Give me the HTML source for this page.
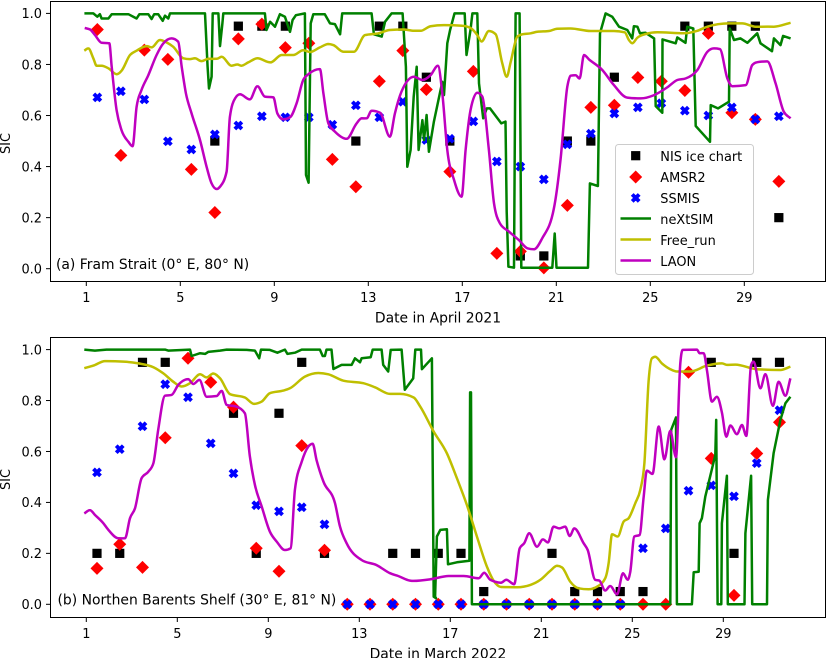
<!DOCTYPE html>
<html lang="en">
<head>
<meta charset="utf-8">
<title>SIC comparison chart</title>
<style>
html,body{margin:0;padding:0;background:#fff;}
svg{display:block;font-family:"DejaVu Sans","Liberation Sans",sans-serif;}
text{fill:#000;font-size:12.9px;}
</style>
</head>
<body>
<svg id="chart" xmlns="http://www.w3.org/2000/svg" width="827" height="658" viewBox="0 0 827 658">
<g id="panelA"></g>
<g id="panelB"></g>
<g id="legend">
<rect x="615.5" y="144.5" width="138" height="130" rx="3" ry="3" fill="#fff" fill-opacity="0.8" stroke="#ccc" stroke-width="1"/>
<rect x="631.1" y="151.1" width="9.2" height="9.2" fill="#000"/>
<text x="660.3" y="161">NIS ice chart</text>
<path d="M635.7 170.5L642.2 177L635.7 183.5L629.2 177Z" fill="#f00"/>
<text x="660.3" y="182">AMSR2</text>
<path d="M633.6 193.7L635.7 195.8L637.8 193.7L640 195.8L637.8 197.9L640 200L637.8 202.2L635.7 200L633.6 202.2L631.4 200L633.6 197.9L631.4 195.8Z" fill="#00f" stroke="#00f" stroke-width="0.8"/>
<text x="660.3" y="203">SSMIS</text>
<line x1="620.5" x2="651" y1="218.5" y2="218.5" stroke="#008000" stroke-width="2.5"/>
<text x="660.3" y="224">neXtSIM</text>
<line x1="620.5" x2="651" y1="239.5" y2="239.5" stroke="#bfbf00" stroke-width="2.5"/>
<text x="660.3" y="245">Free_run</text>
<line x1="620.5" x2="651" y1="260.5" y2="260.5" stroke="#bf00bf" stroke-width="2.5"/>
<text x="660.3" y="266">LAON</text>
</g>
</svg>
<script>
const xTickLabels = [1, 5, 9, 13, 17, 21, 25, 29];
const yTickLabels = ["0.0", "0.2", "0.4", "0.6", "0.8", "1.0"];
const yTickValues = [0, 0.2, 0.4, 0.6, 0.8, 1.0];

const aprilMarkerDays = [1.47,2.47,3.47,4.47,5.47,6.47,7.47,8.47,9.47,10.47,11.47,12.47,13.47,14.47,15.47,16.47,17.47,18.47,19.47,20.47,21.47,22.47,23.47,24.47,25.47,26.47,27.47,28.47,29.47,30.47];
const aprilNis = [null,null,null,null,null,0.5,0.95,0.95,0.95,null,null,0.5,0.95,0.95,0.75,0.5,null,null,0.05,0.05,0.5,0.5,0.75,null,null,0.95,0.95,0.95,0.95,0.2];
const aprilAmsr2 = [0.937,0.444,0.856,0.82,0.389,0.22,0.90,0.958,0.866,0.883,0.428,0.321,0.734,0.854,0.702,0.38,0.773,0.06,0.068,0.003,0.248,0.632,0.64,0.749,0.734,0.698,0.922,0.611,0.585,0.342];
const aprilSsmis = [0.671,0.695,0.663,0.499,0.467,0.526,0.561,0.597,0.593,0.593,0.564,0.64,0.593,0.654,0.504,0.509,0.577,0.42,0.40,0.35,0.487,0.529,0.608,0.632,0.648,0.619,0.60,0.632,0.585,0.597];

const aprilNextsimDays = [0.92,1.3,1.47,1.58,1.65,1.94,2.08,2.79,3.14,3.26,3.64,3.78,3.89,4.06,4.25,4.35,4.49,4.56,6.05,6.16,6.22,6.33,6.38,6.62,6.69,6.79,6.83,8.6,8.67,8.82,9.03,9.24,9.45,9.67,9.78,9.92,10.3,10.35,10.46,10.55,10.66,11.15,11.37,11.58,11.8,11.89,13.14,13.24,13.57,13.71,13.99,14.46,14.6,14.66,14.8,14.93,15.06,15.14,15.3,15.37,15.48,15.58,15.79,16.15,16.22,16.36,16.48,16.67,17.1,17.18,17.35,17.43,17.64,17.71,17.89,18.04,18.18,18.66,18.84,18.89,18.96,19.2,19.27,19.44,19.51,20.83,20.93,21.01,22.35,22.43,22.77,22.86,23.1,23.38,23.67,24.02,24.23,24.3,24.45,24.56,24.8,25.16,25.23,25.51,25.52,26.08,26.15,26.5,26.57,26.83,26.93,27.54,27.57,27.88,28.35,28.38,28.56,28.84,29.13,29.55,29.69,30.18,30.26,30.54,30.65,30.97];
const aprilNextsimValues = [1,1,0.987,0.997,0.98,0.98,0.997,0.997,0.98,0.997,0.997,0.978,0.997,0.997,0.971,0.991,0.98,1,1,0.791,0.706,0.752,1,1,0.872,0.961,1,1,0.935,0.967,0.948,0.997,0.987,0.928,0.974,0.993,1,0.367,0.337,0.961,0.997,0.997,0.961,0.958,0.918,1,1,0.918,0.909,0.967,1,1,0.791,0.399,0.465,0.674,0.791,0.465,0.582,0.504,0.602,0.458,0.576,0.732,0.68,0.883,0.935,1,1,0.837,0.935,1,1,0.726,0.589,0.628,0.628,0.569,0.576,0.223,0.008,0.004,1,1,0.004,0.004,0.138,0.004,0.004,0.334,0.324,0.922,1,0.987,0.948,0.935,0.902,0.95,0.948,0.922,0.924,0.902,0.637,0.611,0.898,0.883,0.906,0.885,0.948,0.941,0.559,0.497,0.641,0.628,0.654,0.941,0.896,0.902,0.885,0.922,0.883,0.852,0.902,0.876,0.912,0.902];

const aprilFreeDays = [0.915,1.085,1.3,1.44,1.65,1.94,2.29,2.5,2.86,3.14,3.57,3.78,4.13,4.42,4.7,5.13,5.41,5.62,5.9,6.19,6.55,6.76,7.18,7.43,7.6,7.89,8.28,8.84,9.31,9.81,10.23,10.52,10.94,11.3,11.51,11.94,12.39,12.86,13.43,13.92,14.49,14.94,15.23,15.65,16.22,17,17.35,17.64,17.82,18.13,18.42,18.7,18.89,19.06,19.34,19.55,19.91,20.19,20.69,21.04,21.61,22.46,23.45,23.91,24.09,24.23,24.45,24.8,25.3,26.43,27,27.43,28.35,28.91,29.48,30.26,30.97];
const aprilFreeValues = [0.854,0.863,0.824,0.795,0.795,0.785,0.762,0.775,0.837,0.854,0.872,0.867,0.896,0.886,0.869,0.824,0.821,0.824,0.813,0.822,0.822,0.83,0.795,0.80,0.795,0.808,0.824,0.808,0.837,0.837,0.856,0.849,0.867,0.88,0.876,0.85,0.85,0.915,0.922,0.935,0.937,0.932,0.932,0.95,0.954,0.952,0.943,0.915,0.89,0.931,0.918,0.804,0.752,0.81,0.909,0.918,0.922,0.928,0.931,0.94,0.941,0.931,0.931,0.926,0.896,0.883,0.905,0.919,0.926,0.922,0.932,0.948,0.961,0.961,0.948,0.948,0.963];

const aprilLaonDays = [0.93,1.16,1.37,1.65,1.98,2.08,2.29,2.5,2.79,2.97,3.14,3.35,3.64,3.99,4.28,4.63,4.91,5.06,5.24,5.48,5.84,6.12,6.33,6.55,6.69,6.97,7.11,7.33,7.54,7.96,8.28,8.6,8.96,9.13,9.38,9.67,9.95,10.23,10.45,10.94,11.09,11.3,11.58,12.08,12.5,12.72,12.93,13.14,13.5,13.92,14.13,14.41,14.94,15.3,15.65,15.96,16.15,16.36,16.65,16.97,17.14,17.35,17.64,17.85,18.13,18.35,18.6,18.99,19.41,19.77,20.05,20.4,20.9,21.18,21.47,21.61,21.82,21.99,22.18,22.39,22.96,23.45,24.02,24.59,25.16,25.72,26.15,26.5,27,27.43,27.71,27.96,28.28,28.49,29.06,29.34,29.55,29.98,30.33,30.68,30.97];
const aprilLaonValues = [0.943,0.937,0.915,0.885,0.883,0.791,0.621,0.543,0.497,0.48,0.634,0.70,0.758,0.837,0.883,0.902,0.889,0.791,0.687,0.608,0.504,0.399,0.334,0.312,0.321,0.38,0.595,0.667,0.683,0.663,0.715,0.674,0.671,0.608,0.585,0.593,0.648,0.739,0.762,0.782,0.687,0.569,0.537,0.509,0.569,0.589,0.589,0.619,0.611,0.517,0.608,0.693,0.752,0.739,0.758,0.795,0.687,0.465,0.347,0.282,0.465,0.621,0.689,0.674,0.465,0.256,0.178,0.145,0.112,0.08,0.076,0.119,0.236,0.426,0.713,0.756,0.758,0.745,0.837,0.82,0.778,0.719,0.67,0.667,0.68,0.71,0.739,0.745,0.778,0.85,0.863,0.86,0.745,0.715,0.719,0.798,0.809,0.812,0.726,0.615,0.589];

const marchMarkerDays = [1.47,2.47,3.47,4.47,5.47,6.47,7.47,8.47,9.47,10.47,11.47,12.47,13.47,14.47,15.47,16.47,17.47,18.47,19.47,20.47,21.47,22.47,23.47,24.47,25.47,26.47,27.47,28.47,29.47,30.47,31.47];
const marchNis = [0.2,0.2,0.95,0.95,null,null,0.75,0.2,0.75,0.95,0.2,null,null,0.2,0.2,0.2,0.2,0.05,null,null,0.2,0.05,0.05,0.05,0.05,null,null,0.95,0.2,0.95,0.95];
const marchAmsr2 = [0.141,0.236,0.145,0.654,0.966,0.872,0.774,0.22,0.13,0.623,0.212,0,0,0,0,0,0,0,0,0,0,0,0,0,0,0,0.911,0.573,0.035,0.592,0.715];
const marchSsmis = [0.518,0.609,0.699,0.864,0.813,0.632,0.514,0.389,0.365,0.381,0.314,0,0,0,0,0,0,0,0,0,0,0,0,0,0.22,0.298,0.446,0.467,0.424,0.554,0.762];

const marchNextsimDays = [0.91,1.38,1.89,4.46,4.6,5.56,5.63,6,6.22,6.36,6.88,7.17,8.05,8.41,8.6,8.68,9.07,9.4,9.73,9.84,10.17,10.47,11.27,11.39,11.49,11.56,11.78,11.86,12.22,12.66,12.81,13.03,13.1,13.5,13.59,13.98,14.05,14.27,14.38,14.86,15,15.37,15.46,15.71,15.75,16.19,16.27,16.37,16.33,16.41,16.56,16.85,16.9,17.29,17.84,17.87,17.91,17.95,26.67,26.71,26.92,26.96,27.62,27.7,27.92,27.96,28.06,28.21,28.65,28.69,28.75,28.91,28.94,29.16,29.2,29.93,29.97,30.22,30.27,30.92,30.96,31.21,31.51,31.73,31.95];
const marchNextsimValues = [1,0.996,1,1,0.996,1,0.975,0.986,0.983,0.991,0.996,1,0.999,0.996,0.966,1,0.999,0.988,1,0.983,0.988,1,1,0.975,0.975,1,1,0.924,0.94,0.94,0.966,0.95,0.966,0.97,1,1,0.94,0.914,0.999,1,0.842,0.887,1,1,0.923,0.966,0.03,0.024,0.03,0.266,0.292,0.295,0.157,0.165,0.171,0.832,0.832,0,0,0.685,0.734,0,0,0.126,0.128,0.318,0.338,0.423,0.586,0.724,0,0,0.318,0.505,0,0,0.279,0.505,0,0,0.41,0.593,0.724,0.789,0.815];

const marchFreeDays = [0.91,1.31,1.82,2.63,3.29,3.95,4.38,4.82,5.19,5.56,6,6.29,6.58,6.88,7.32,7.97,8.37,8.71,9.07,9.66,9.95,10.61,11.2,11.64,12.3,13.18,13.69,14.35,14.79,15.39,15.68,16.27,16.85,17.29,17.73,18.17,18.61,18.9,19.23,19.93,20.52,20.96,21.4,21.69,21.91,22.27,22.64,23.08,23.45,23.81,23.96,24.11,24.36,24.62,24.84,25.13,25.35,25.53,25.72,25.86,26.01,26.3,26.67,26.96,27.55,28.28,28.94,29.16,29.53,30.48,31.51,31.95];
const marchFreeValues = [0.927,0.937,0.955,0.953,0.946,0.931,0.907,0.874,0.855,0.868,0.903,0.891,0.906,0.887,0.825,0.812,0.787,0.796,0.829,0.839,0.848,0.894,0.908,0.903,0.878,0.868,0.852,0.826,0.826,0.812,0.776,0.678,0.593,0.495,0.39,0.266,0.148,0.093,0.068,0.067,0.076,0.096,0.132,0.151,0.145,0.089,0.063,0.059,0.069,0.102,0.161,0.275,0.266,0.325,0.338,0.397,0.449,0.554,0.881,0.966,0.972,0.946,0.923,0.914,0.914,0.937,0.946,0.94,0.941,0.923,0.92,0.933];

const marchLaonDays = [0.91,1.16,1.38,1.75,1.97,2.41,2.7,2.92,3.14,3.43,3.73,3.95,4.16,4.46,4.75,5.04,5.48,5.7,5.97,6.29,6.73,6.95,7.17,7.61,7.97,8.19,8.41,8.71,9.07,9.37,9.73,9.98,10.17,10.47,10.76,10.95,11.12,11.42,11.93,12.15,12.44,13.1,13.76,14.35,14.71,15.23,15.39,16.12,16.93,17.59,18.25,18.49,18.76,19.23,19.46,19.81,20.05,20.25,20.47,20.81,21.07,21.29,21.54,21.79,22.05,22.25,22.45,22.86,23.04,23.37,23.55,23.81,24.03,24.33,24.59,24.8,24.91,25.09,25.32,25.5,25.64,25.89,26.16,26.41,26.67,26.92,27.11,27.21,27.84,27.96,28.14,28.28,28.5,28.72,28.94,29.13,29.31,29.6,29.82,30.01,30.22,30.33,30.63,30.85,31.18,31.43,31.73,31.95];
const marchLaonValues = [0.357,0.37,0.351,0.318,0.292,0.259,0.259,0.338,0.377,0.495,0.521,0.554,0.685,0.819,0.822,0.861,0.884,0.865,0.881,0.815,0.818,0.838,0.783,0.776,0.75,0.58,0.469,0.384,0.285,0.246,0.213,0.22,0.449,0.56,0.619,0.63,0.567,0.482,0.397,0.305,0.24,0.174,0.154,0.122,0.111,0.093,0.092,0.098,0.111,0.111,0.102,0.124,0.096,0.085,0.096,0.079,0.22,0.24,0.279,0.226,0.255,0.243,0.305,0.298,0.305,0.268,0.298,0.24,0.213,0.096,0.093,0.054,0.072,0.039,0.122,0.096,0.128,0.266,0.272,0.423,0.525,0.512,0.698,0.569,0.681,0.577,0.946,0.999,1,0.986,0.986,0.92,0.796,0.815,0.753,0.658,0.702,0.668,0.704,0.661,0.94,0.953,0.848,0.904,0.779,0.874,0.819,0.887];

const NS = "http://www.w3.org/2000/svg";

function make(parent, tag, attrs) {
  const el = document.createElementNS(NS, tag);
  for (const k in attrs) el.setAttribute(k, attrs[k]);
  parent.appendChild(el);
  return el;
}

function squarePath(cx, cy, r) {
  return "M" + (cx - r) + " " + (cy - r) + "H" + (cx + r) + "V" + (cy + r) + "H" + (cx - r) + "Z";
}
function diamondPath(cx, cy, r) {
  return "M" + cx + " " + (cy - r) + "L" + (cx + r) + " " + cy + "L" + cx + " " + (cy + r) + "L" + (cx - r) + " " + cy + "Z";
}
function crossPath(cx, cy, u) {
  const shape = [[-1,-2],[0,-1],[1,-2],[2,-1],[1,0],[2,1],[1,2],[0,1],[-1,2],[-2,1],[-1,0],[-2,-1]];
  return "M" + shape.map(p => (cx + p[0] * u) + " " + (cy + p[1] * u)).join("L") + "Z";
}

function straightPath(xs, ys) {
  return "M" + xs.map((px, i) => px.toFixed(1) + " " + ys[i].toFixed(1)).join("L");
}

function smoothPath(xs, ys) {
  const n = xs.length;
  const s = [];
  for (let i = 0; i < n - 1; i++) s.push((ys[i + 1] - ys[i]) / (xs[i + 1] - xs[i]));
  const t = [s[0]];
  for (let i = 1; i < n - 1; i++) {
    const h0 = xs[i] - xs[i - 1];
    const h1 = xs[i + 1] - xs[i];
    const mid = (s[i - 1] * h1 + s[i] * h0) / (h0 + h1);
    t.push((Math.sign(s[i - 1]) + Math.sign(s[i])) * Math.min(Math.abs(s[i - 1]), Math.abs(s[i]), 0.5 * Math.abs(mid)));
  }
  t.push(s[n - 2]);
  let d = "M" + xs[0].toFixed(1) + " " + ys[0].toFixed(1);
  for (let i = 0; i < n - 1; i++) {
    const h = (xs[i + 1] - xs[i]) / 3;
    d += "C" + (xs[i] + h).toFixed(2) + " " + (ys[i] + h * t[i]).toFixed(2) + " " +
         (xs[i + 1] - h).toFixed(2) + " " + (ys[i + 1] - h * t[i + 1]).toFixed(2) + " " +
         xs[i + 1].toFixed(1) + " " + ys[i + 1].toFixed(1);
  }
  return d;
}

function drawPanel(p) {
  const root = document.getElementById(p.id);
  const x = d => p.x1 + (d - 1) * p.dayPx;
  const y = v => p.y0 - v * p.unitPx;

  const frame = make(root, "rect", {x: p.left, y: p.top, width: p.right - p.left, height: p.bottom - p.top, fill: "#fff", stroke: "none"});
  
  

  p.nis.forEach((v, i) => {
    if (v === null) return;
    const m = make(root, "path", {d: squarePath(x(p.days[i]), y(v), 4.6), fill: "#000"});
    
    
  });
  p.amsr2.forEach((v, i) => {
    if (v === null) return;
    const m = make(root, "path", {d: diamondPath(x(p.days[i]), y(v), 6.5), fill: "#f00"});
    
    
  });
  p.ssmis.forEach((v, i) => {
    if (v === null) return;
    const m = make(root, "path", {d: crossPath(x(p.days[i]), y(v), 2.15), fill: "#00f", stroke: "#00f", "stroke-width": 0.8});
    
    
  });

  p.lines.forEach(s => {
    const xs = s.days.map(x);
    const ys = s.values.map(y);
    const d = s.smooth ? smoothPath(xs, ys) : straightPath(xs, ys);
    const l = make(root, "path", {d: d, fill: "none", stroke: s.color, "stroke-width": 2.5, "stroke-linejoin": "round"});
    
    
  });

  const spine = make(root, "rect", {x: p.left, y: p.top, width: p.right - p.left, height: p.bottom - p.top, fill: "none", stroke: "#000", "stroke-width": 1});
  
  

  xTickLabels.forEach(d => {
    const t = make(root, "line", {x1: x(d), x2: x(d), y1: p.bottom, y2: p.bottom + 4.5, stroke: "#000", "stroke-width": 1});
    
    
    const lb = make(root, "text", {x: x(d), y: p.bottom + 20.5, "text-anchor": "middle"});
    lb.textContent = d;
    
    
  });
  yTickValues.forEach((v, i) => {
    const t = make(root, "line", {x1: p.left - 4.5, x2: p.left, y1: y(v), y2: y(v), stroke: "#000", "stroke-width": 1});
    
    
    const lb = make(root, "text", {x: p.left - 8.5, y: y(v) + 4.8, "text-anchor": "end"});
    lb.textContent = yTickLabels[i];
    
    
  });

  const xt = make(root, "text", {x: 438, y: p.bottom + 41, "text-anchor": "middle", style: "font-size:13.9px"});
  xt.textContent = p.xTitle;
  
  

  const cy = (p.top + p.bottom) / 2 + 2;
  const yt = make(root, "text", {x: 10, y: cy, "text-anchor": "middle", transform: "rotate(-90 10 " + cy + ")"});
  yt.textContent = "SIC";
  
  

  const note = make(root, "text", {x: p.noteX, y: p.noteY, style: "font-size:13.9px"});
  note.textContent = p.note;
  
  
}

drawPanel({
  id: "panelA", prefix: "fram", left: 50.5, right: 825.5, top: 1.5, bottom: 281.5,
  x1: 86.3, dayPx: 23.5, y0: 268.7, unitPx: 255.3,
  days: aprilMarkerDays, nis: aprilNis, amsr2: aprilAmsr2, ssmis: aprilSsmis,
  lines: [
    {name: "nextsim", color: "#008000", smooth: false, days: aprilNextsimDays, values: aprilNextsimValues},
    {name: "free-run", color: "#bfbf00", smooth: true, days: aprilFreeDays, values: aprilFreeValues},
    {name: "laon", color: "#bf00bf", smooth: true, days: aprilLaonDays, values: aprilLaonValues}
  ],
  xTitle: "Date in April 2021",
  note: "(a) Fram Strait (0° E, 80° N)", noteX: 56, noteY: 269
});

drawPanel({
  id: "panelB", prefix: "barents", left: 50.5, right: 825.5, top: 337.5, bottom: 617.5,
  x1: 86.3, dayPx: 22.75, y0: 604.3, unitPx: 254.7,
  days: marchMarkerDays, nis: marchNis, amsr2: marchAmsr2, ssmis: marchSsmis,
  lines: [
    {name: "nextsim", color: "#008000", smooth: false, days: marchNextsimDays, values: marchNextsimValues},
    {name: "free-run", color: "#bfbf00", smooth: true, days: marchFreeDays, values: marchFreeValues},
    {name: "laon", color: "#bf00bf", smooth: true, days: marchLaonDays, values: marchLaonValues}
  ],
  xTitle: "Date in March 2022",
  note: "(b) Northen Barents Shelf (30° E, 81° N)", noteX: 57.5, noteY: 604.5
});

const chartSvg = document.getElementById("chart");
chartSvg.appendChild(document.getElementById("legend"));
</script>
</body>
</html>
